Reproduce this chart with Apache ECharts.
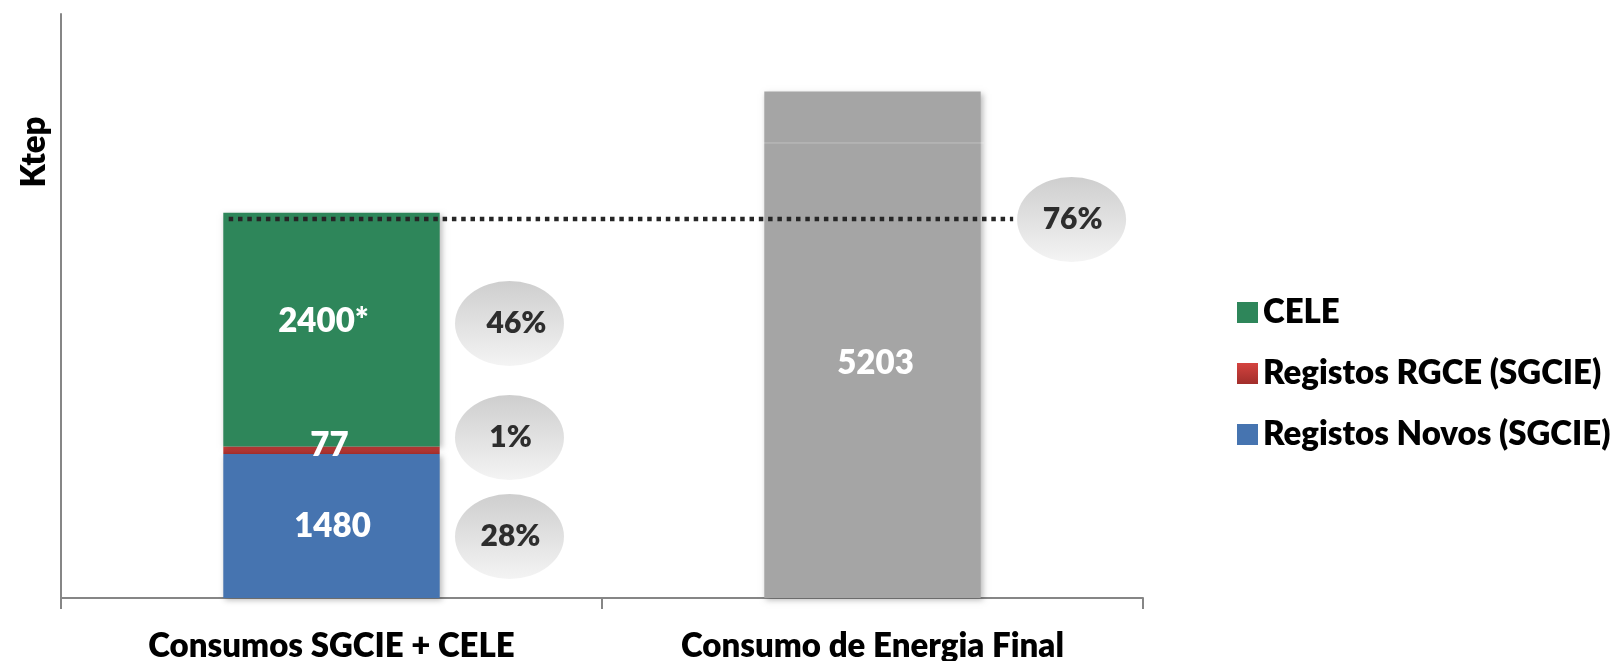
<!DOCTYPE html>
<html>
<head>
<meta charset="utf-8">
<script src="https://cdn.jsdelivr.net/npm/echarts@6/dist/echarts.min.js"></script>
<style>
html,body{margin:0;padding:0;background:#fff;}
#chart{width:1620px;height:661px;}
</style>
</head>
<body>
<div id="chart"></div>
<script>
// ---- data ----
const categories = ['Consumos SGCIE + CELE', 'Consumo de Energia Final'];
const registosNovos = [1480, null];
const registosRGCE = [77, null];
const cele = [2400, null];
const consumoFinal = [null, 5203];
const seriesNames = ['Registos Novos (SGCIE)', 'Registos RGCE (SGCIE)', 'CELE'];
const legendOrder = ['CELE', 'Registos RGCE (SGCIE)', 'Registos Novos (SGCIE)'];
// percentage bubbles (position: x on 0..2 category span, y in ktep)
const bubbleLabels = ['46%', '1%', '28%', '76%'];
const bubbleX = [0.829, 0.829, 0.829, 1.868];
const bubbleY = [2820, 1649, 632, 3889];
// dotted reference line (share of final consumption)
const refLineX = [0.31, 1.76];
const refLineY = 3895;
// faint divider inside the grey bar
const dividerX = [1.296, 1.706];
const dividerY = 4675;

const FONT = 'Lato, "Open Sans", sans-serif';
const WEIGHT = 800;
const chart = echarts.init(document.getElementById('chart'), null, {renderer: 'canvas'});

const shadow = {shadowColor: 'rgba(0,0,0,0.28)', shadowBlur: 6, shadowOffsetX: 2, shadowOffsetY: 2};
const barLabel = (offset, suffix) => ({
  show: true, position: 'inside', color: '#fff', fontFamily: FONT, fontWeight: WEIGHT, fontSize: 33,
  offset: offset,
  formatter: p => (p.value == null ? '' : p.value + (suffix || ''))
});

const option = {
  animation: false,
  backgroundColor: '#fff',
  grid: {left: 61, right: 477, top: 14, bottom: 63, containLabel: false, outerBoundsMode: 'none'},
  legend: {
    data: legendOrder,
    orient: 'vertical',
    left: 1232, top: 291,
    itemWidth: 21, itemHeight: 21, itemGap: 28,
    icon: 'rect',
    textStyle: {fontFamily: FONT, fontWeight: WEIGHT, fontSize: 33, lineHeight: 33, color: '#000'},
    selectedMode: false
  },
  xAxis: [{
    type: 'category', data: categories, boundaryGap: true,
    axisLine: {show: true, lineStyle: {color: '#868686', width: 2}},
    axisTick: {show: true, length: 11, interval: 0, lineStyle: {color: '#868686', width: 2}},
    axisLabel: {interval: 0, margin: 32, color: '#000', fontFamily: FONT, fontWeight: WEIGHT, fontSize: 33},
    splitLine: {show: false}
  }, {
    type: 'value', min: 0, max: 2, show: false
  }],
  yAxis: {
    type: 'value', min: 0, max: 6000,
    name: 'Ktep', nameLocation: 'middle', nameRotate: 90, nameGap: 10,
    nameTextStyle: {fontFamily: FONT, fontWeight: WEIGHT, fontSize: 33, color: '#000', padding: [0,0,0,308]},
    axisLine: {show: true, lineStyle: {color: '#868686', width: 2}},
    axisTick: {show: false}, axisLabel: {show: false}, splitLine: {show: false}
  },
  series: [
    {
      name: seriesNames[0], type: 'bar', stack: 'a', barWidth: '40%', data: registosNovos,
      itemStyle: Object.assign({color: '#4674b0'}, shadow),
      label: barLabel([1, 0]), emphasis: {disabled: true}
    },
    {
      name: seriesNames[1], type: 'bar', stack: 'a', barWidth: '40%', data: registosRGCE,
      itemStyle: {color: {type: 'linear', x: 0, y: 0, x2: 0, y2: 1, colorStops: [{offset: 0, color: '#d4433f'}, {offset: 1, color: '#a12e2b'}]}},
      label: barLabel([-2, -5]), emphasis: {disabled: true}
    },
    {
      name: seriesNames[2], type: 'bar', stack: 'a', barWidth: '40%', data: cele,
      itemStyle: Object.assign({color: '#2e865a'}, shadow),
      label: barLabel([-8, -8], '*'), emphasis: {disabled: true}
    },
    {
      name: 'Consumo de Energia Final', type: 'bar', stack: 'a', barWidth: '40%', data: consumoFinal,
      itemStyle: Object.assign({color: '#a5a5a5'}, shadow),
      label: barLabel([3, 19]), emphasis: {disabled: true}
    },
    {
      name: 'divider', type: 'line', xAxisIndex: 1, z: 3, symbol: 'none',
      data: dividerX.map(x => [x, dividerY]),
      lineStyle: {color: 'rgba(255,255,255,0.3)', width: 1}, emphasis: {disabled: true}
    },
    {
      name: 'ref', type: 'line', xAxisIndex: 1, z: 4, symbol: 'none',
      data: refLineX.map(x => [x, refLineY]),
      lineStyle: {color: '#262626', width: 4.5, type: [4.5, 4.8], cap: 'butt'}, emphasis: {disabled: true}
    },
    {
      name: 'bubbles', type: 'scatter', xAxisIndex: 1, z: 5,
      symbol: 'path://M50,0 A50,50 0 1,1 50,100 A50,50 0 1,1 50,0 Z',
      symbolSize: [109, 85],
      data: bubbleLabels.map((t, i) => ({name: t, value: [bubbleX[i], bubbleY[i]],
        label: {offset: i === 0 ? [7, 0] : [1, 0]}})),
      itemStyle: {color: {type: 'linear', x: 0, y: 0, x2: 0, y2: 1, colorStops: [{offset: 0, color: '#c2c2c2'}, {offset: 1, color: '#f1f1f1'}]}},
      label: {show: true, position: 'inside', formatter: p => p.name, color: '#000', fontFamily: FONT, fontWeight: WEIGHT, fontSize: 30},
      emphasis: {disabled: true}
    }
  ]
};
chart.setOption(option);
</script>
</body>
</html>
